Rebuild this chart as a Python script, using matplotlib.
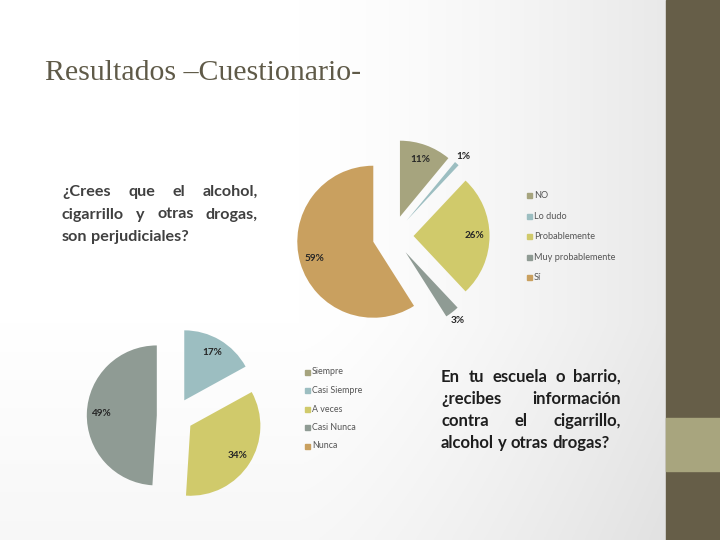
import numpy as np
import matplotlib
matplotlib.use('Agg')
import matplotlib.pyplot as plt
from matplotlib.patches import Rectangle

# datos de los dos cuestionarios
preg1_labels = ['NO', 'Lo dudo', 'Probablemente', 'Muy probablemente', 'Sí']
preg1_values = [11, 1, 26, 3, 59]
preg2_labels = ['Siempre', 'Casi Siempre', 'A veces', 'Casi Nunca', 'Nunca']
preg2_values = [0, 17, 34, 49, 0]

colores = ['#A6A47E', '#9CBEC1', '#D0CA6B', '#8F9B94', '#C9A05F']

titulo = 'Resultados –Cuestionario-'
preg1_txt = ['¿Crees que el alcohol,', 'cigarrillo y otras drogas,', 'son perjudiciales?']
preg2_txt = ['En tu escuela o barrio,', '¿recibes información', 'contra el cigarrillo,',
             'alcohol y otras drogas?']

W, H = 720, 540
fig = plt.figure(figsize=(7.2, 5.4), dpi=100)
bg = fig.add_axes([0, 0, 1, 1])
bg.set_xlim(0, W)
bg.set_ylim(H, 0)
bg.axis('off')

# fondo con degradado suave
xx = np.linspace(0, 1, 300)
yy = np.linspace(0, 1, 200)
X, Y = np.meshgrid(xx, yy)
g = 1 - 0.085 * np.clip((X - 0.45) / 0.55, 0, 1) ** 1.4 - 0.03 * np.clip((Y - 0.6) / 0.4, 0, 1)
bg.imshow(np.dstack([g, g, g]), extent=(0, 666, H, 0), aspect='auto', zorder=0)
bg.add_patch(Rectangle((666, 0), 54, 540, color='#665E48', zorder=1))
bg.add_patch(Rectangle((666, 418), 54, 53, color='#A8A57E', zorder=2))

bg.text(45, 80, titulo, fontsize=21.5, family='Liberation Serif', color='#5F5A48', va='baseline')

renderer = fig.canvas.get_renderer()


def justificar(lineas, x0, x1, y0, dy, **kw):
    for i, linea in enumerate(lineas):
        y = y0 + i * dy
        palabras = linea.split()
        textos = [bg.text(0, y, p, va='center', ha='left', **kw) for p in palabras]
        anchos = [t.get_window_extent(renderer).width for t in textos]
        if i == len(lineas) - 1:
            hueco = 0.24 * kw['fontsize'] * 100 / 72
        else:
            hueco = (x1 - x0 - sum(anchos)) / (len(palabras) - 1)
        x = x0
        for t, a in zip(textos, anchos):
            t.set_x(x)
            x += a + hueco


justificar(preg1_txt, 62, 258, 192, 22.5, fontsize=11.6, family='Lato', weight='bold', color='#404040')
justificar(preg2_txt, 441, 621, 377, 22, fontsize=12, family='Lato', weight='bold', color='#1E1E1E')


def tarta(cx, cy, r, valores, explode):
    s = 150
    ax = fig.add_axes([(cx - s) / W, 1 - (cy + s) / H, 2 * s / W, 2 * s / H])
    wedges, _, autos = ax.pie(valores, colors=colores, startangle=90, counterclock=False,
                              explode=[explode] * len(valores),
                              autopct=lambda p: '' if p < 0.5 else '%d%%' % round(p),
                              wedgeprops=dict(linewidth=0),
                              textprops=dict(fontsize=7.2, family='Lato', weight='bold', color='#262626'))
    for w, t, v in zip(wedges, autos, valores):
        mid = np.deg2rad((w.theta1 + w.theta2) / 2)
        d = 1.13 if v < 5 else 0.8
        t.set_position((w.center[0] + d * np.cos(mid), w.center[1] + d * np.sin(mid)))
        t.set_ha('center')
        t.set_va('center')
    ax.set_xlim(-s / r, s / r)
    ax.set_ylim(-s / r, s / r)
    ax.axis('off')


tarta(393, 236, 76, preg1_values, 0.27)
tarta(175, 416, 70, preg2_values, 0.26)


def leyenda(labels, x, y0, dy, fs):
    for i, (lab, col) in enumerate(zip(labels, colores)):
        y = y0 + i * dy
        bg.add_patch(Rectangle((x, y - 2.5), 5, 5, color=col, zorder=3))
        bg.text(x + 7, y, lab, fontsize=fs, family='Lato', color='#555555', va='center', zorder=3)


leyenda(preg1_labels, 527, 195.5, 20.6, 6.6)
leyenda(preg2_labels, 305, 372, 18.5, 6.4)

fig.savefig('out.png', dpi=100)
